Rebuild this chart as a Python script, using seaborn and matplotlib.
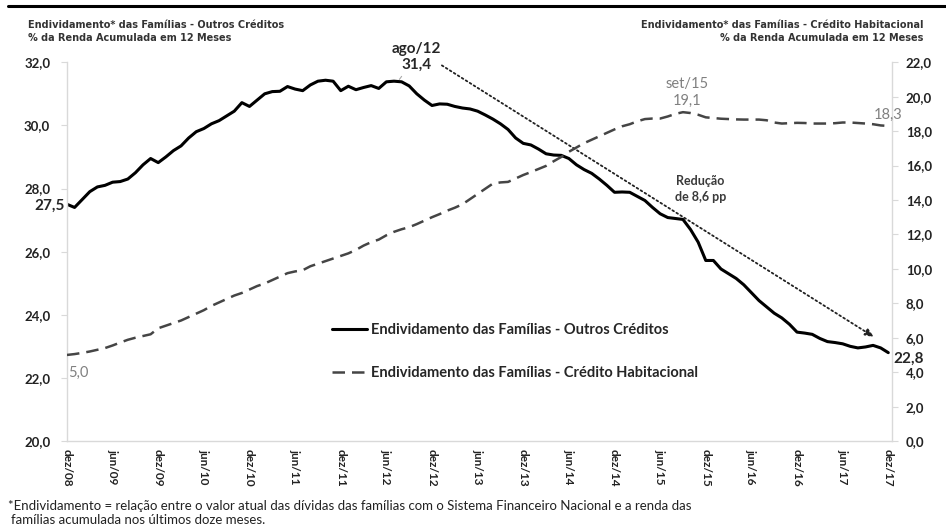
import numpy as np
import pandas as pd
import matplotlib
matplotlib.use("Agg")
import matplotlib.pyplot as plt
from matplotlib.lines import Line2D
from matplotlib.ticker import FuncFormatter, MultipleLocator
import seaborn as sns


# =========================
# 1. Data: % da renda acumulada em 12 meses, dez/08 .. dez/17 (monthly)
# =========================

outros_creditos = [
    27.50, 27.40, 27.65, 27.90, 28.05, 28.10, 28.20, 28.22, 28.30, 28.50,
    28.75, 28.95, 28.82, 29.00, 29.20, 29.35, 29.60, 29.80, 29.90, 30.05,
    30.15, 30.30, 30.45, 30.72, 30.60, 30.80, 31.00, 31.07, 31.08, 31.23,
    31.15, 31.10, 31.28, 31.40, 31.43, 31.40, 31.10, 31.24, 31.13, 31.20,
    31.26, 31.17, 31.38, 31.40, 31.38, 31.25, 31.00, 30.80, 30.63, 30.68,
    30.67, 30.60, 30.55, 30.52, 30.45, 30.33, 30.20, 30.05, 29.87, 29.60,
    29.43, 29.38, 29.25, 29.10, 29.06, 29.05, 28.95, 28.75, 28.60, 28.48,
    28.30, 28.10, 27.88, 27.89, 27.88, 27.75, 27.62, 27.40, 27.20, 27.08,
    27.05, 27.02, 26.70, 26.30, 25.72, 25.72, 25.45, 25.30, 25.15, 24.95,
    24.70, 24.45, 24.25, 24.05, 23.90, 23.70, 23.45, 23.42, 23.38, 23.25,
    23.15, 23.12, 23.08, 23.00, 22.95, 22.98, 23.03, 22.95, 22.80,
]

credito_habitacional = [
    5.00, 5.05, 5.12, 5.20, 5.30, 5.40, 5.55, 5.72, 5.88, 6.00,
    6.10, 6.20, 6.55, 6.70, 6.85, 7.00, 7.20, 7.40, 7.60, 7.85,
    8.05, 8.25, 8.45, 8.60, 8.80, 9.00, 9.15, 9.35, 9.55, 9.75,
    9.85, 9.92, 10.15, 10.30, 10.45, 10.60, 10.75, 10.90, 11.10, 11.35,
    11.55, 11.70, 11.95, 12.15, 12.30, 12.42, 12.60, 12.80, 13.00, 13.18,
    13.38, 13.55, 13.75, 14.05, 14.35, 14.65, 14.95, 15.02, 15.05, 15.25,
    15.45, 15.62, 15.80, 15.98, 16.25, 16.50, 16.80, 17.05, 17.30, 17.50,
    17.70, 17.90, 18.10, 18.28, 18.40, 18.57, 18.70, 18.73, 18.73, 18.85,
    19.00, 19.10, 19.05, 18.95, 18.80, 18.76, 18.72, 18.70, 18.68, 18.67,
    18.67, 18.67, 18.63, 18.50, 18.44, 18.46, 18.48, 18.47, 18.44, 18.44,
    18.44, 18.46, 18.50, 18.50, 18.47, 18.44, 18.40, 18.33, 18.30,
]

tick_labels = [
    "dez/08", "jun/09", "dez/09", "jun/10", "dez/10", "jun/11", "dez/11",
    "jun/12", "dez/12", "jun/13", "dez/13", "jun/14", "dez/14", "jun/15",
    "dez/15", "jun/16", "dez/16", "jun/17", "dez/17",
]

label_outros = "Endividamento das Famílias - Outros Créditos"
label_habit = "Endividamento das Famílias - Crédito Habitacional"

df = pd.DataFrame({
    "mes": np.arange(len(outros_creditos)),
    "outros": outros_creditos,
    "habitacional": credito_habitacional,
})


# =========================
# 2. Figure setup
# =========================

sns.set_style("white")
plt.rcParams["font.family"] = ["Lato", "DejaVu Sans"]

fig = plt.figure(figsize=(9.46, 5.32), dpi=100)
fig.subplots_adjust(left=0.0708, right=0.943, bottom=0.171, top=0.883)
ax = fig.add_subplot(111)
ax2 = ax.twinx()

sns.lineplot(data=df, x="mes", y="outros", ax=ax, color="black",
             linewidth=2.2, legend=False)
sns.lineplot(data=df, x="mes", y="habitacional", ax=ax2, color="#454545",
             linewidth=1.8, legend=False)
ax2.get_lines()[0].set_dashes((5, 2.8))

comma = FuncFormatter(lambda v, p: f"{v:.1f}".replace(".", ","))

ax.set_xlim(0, 108.5)
ax.set_ylim(20, 32)
ax2.set_ylim(0, 22)
ax.yaxis.set_major_locator(MultipleLocator(2))
ax2.yaxis.set_major_locator(MultipleLocator(2))
ax.yaxis.set_major_formatter(comma)
ax2.yaxis.set_major_formatter(comma)

ax.set_xticks(np.arange(0, 109, 6))
ax.set_xticklabels(tick_labels, rotation=270, fontsize=8.5, color="#222222",
                   fontweight="bold")
ax.set_xlabel("")
ax.set_ylabel("")
ax2.set_ylabel("")

for a in (ax, ax2):
    for s in a.spines.values():
        s.set_color("#d9d9d9")
        s.set_linewidth(1)
    a.spines["top"].set_visible(False)
    a.grid(False)
ax.spines["right"].set_visible(False)
ax2.spines["left"].set_visible(False)
ax2.spines["bottom"].set_visible(False)

ax.tick_params(axis="y", length=4, color="#d9d9d9", pad=8, labelsize=9.5,
               labelcolor="#222222")
ax2.tick_params(axis="y", length=4, color="#d9d9d9", pad=6, labelsize=9.5,
                labelcolor="#222222")
ax.tick_params(axis="x", length=0, pad=6)
for lab in ax.get_yticklabels() + ax2.get_yticklabels():
    lab.set_fontweight("bold")


# =========================
# 3. Annotations
# =========================

ax.annotate("ago/12\n31,4", xy=(43.6, 31.42), xytext=(45.9, 32.17),
            ha="center", va="center", fontsize=11, fontweight="bold",
            linespacing=1.2, annotation_clip=False,
            arrowprops=dict(arrowstyle="-", color="#aaaaaa", lw=0.8,
                            shrinkA=1, shrinkB=1))

ax2.text(81.6, 20.23, "set/15\n19,1", ha="center", va="center",
         fontsize=10.5, color="#808080", linespacing=1.3)
ax2.text(106.1, 18.95, "18,3", ha="left", va="center", fontsize=10.5,
         color="#808080", clip_on=False)
ax2.text(0.2, 3.93, "5,0", ha="left", va="center", fontsize=10.5,
         color="#808080")

ax.text(-0.003, 27.45, "27,5", transform=ax.get_yaxis_transform(),
        ha="right", va="center", fontsize=11, fontweight="bold")
ax.text(1.002, 22.6, "22,8", transform=ax.get_yaxis_transform(),
        ha="left", va="center", fontsize=11, fontweight="bold")

ax.text(83.3, 28.0, "Redução\nde 8,6 pp", ha="center", va="center",
        fontsize=9, fontweight="bold", color="#3a3a3a", linespacing=1.4)

ax.annotate("", xy=(106.1, 23.3), xytext=(49.3, 31.9),
            arrowprops=dict(arrowstyle="-|>,head_length=0.5,head_width=0.22",
                            linestyle=(0, (1, 1.6)), color="#222222", lw=1.3,
                            shrinkA=0, shrinkB=0))

# legend
handles = [
    Line2D([], [], color="black", lw=2.2),
    Line2D([], [], color="#454545", lw=1.8, dashes=(5, 2.8)),
]
fig.legend(handles, [label_outros, label_habit], loc="upper left",
           bbox_to_anchor=(0.337, 0.418), frameon=False, handlelength=2.4,
           handletextpad=0.25, labelspacing=2.0,
           prop={"family": "Lato", "weight": "bold", "size": 10.5})


# =========================
# 4. Titles, top rule and footnote
# =========================

fig.add_artist(Line2D([0.008, 1.0], [0.988, 0.988], transform=fig.transFigure,
                      color="black", lw=2.2))

title_font = {"family": "DejaVu Sans", "size": 7, "weight": "bold",
              "color": "#333333"}
fig.text(0.030, 0.953, "Endividamento* das Famílias - Outros Créditos",
         va="center", **title_font)
fig.text(0.030, 0.928, "% da Renda Acumulada em 12 Meses",
         va="center", **title_font)
fig.text(0.976, 0.953, "Endividamento* das Famílias - Crédito Habitacional",
         va="center", ha="right", **title_font)
fig.text(0.976, 0.928, "% da Renda Acumulada em 12 Meses",
         va="center", ha="right", **title_font)

fig.text(0.008, 0.049,
         "*Endividamento = relação entre o valor atual das dívidas das famílias "
         "com o Sistema Financeiro Nacional e a renda das",
         fontsize=9.5, color="#222222", va="center")
fig.text(0.012, 0.022, "famílias acumulada nos últimos doze meses.",
         fontsize=9.5, color="#222222", va="center")

fig.savefig("out.png", dpi=100)
